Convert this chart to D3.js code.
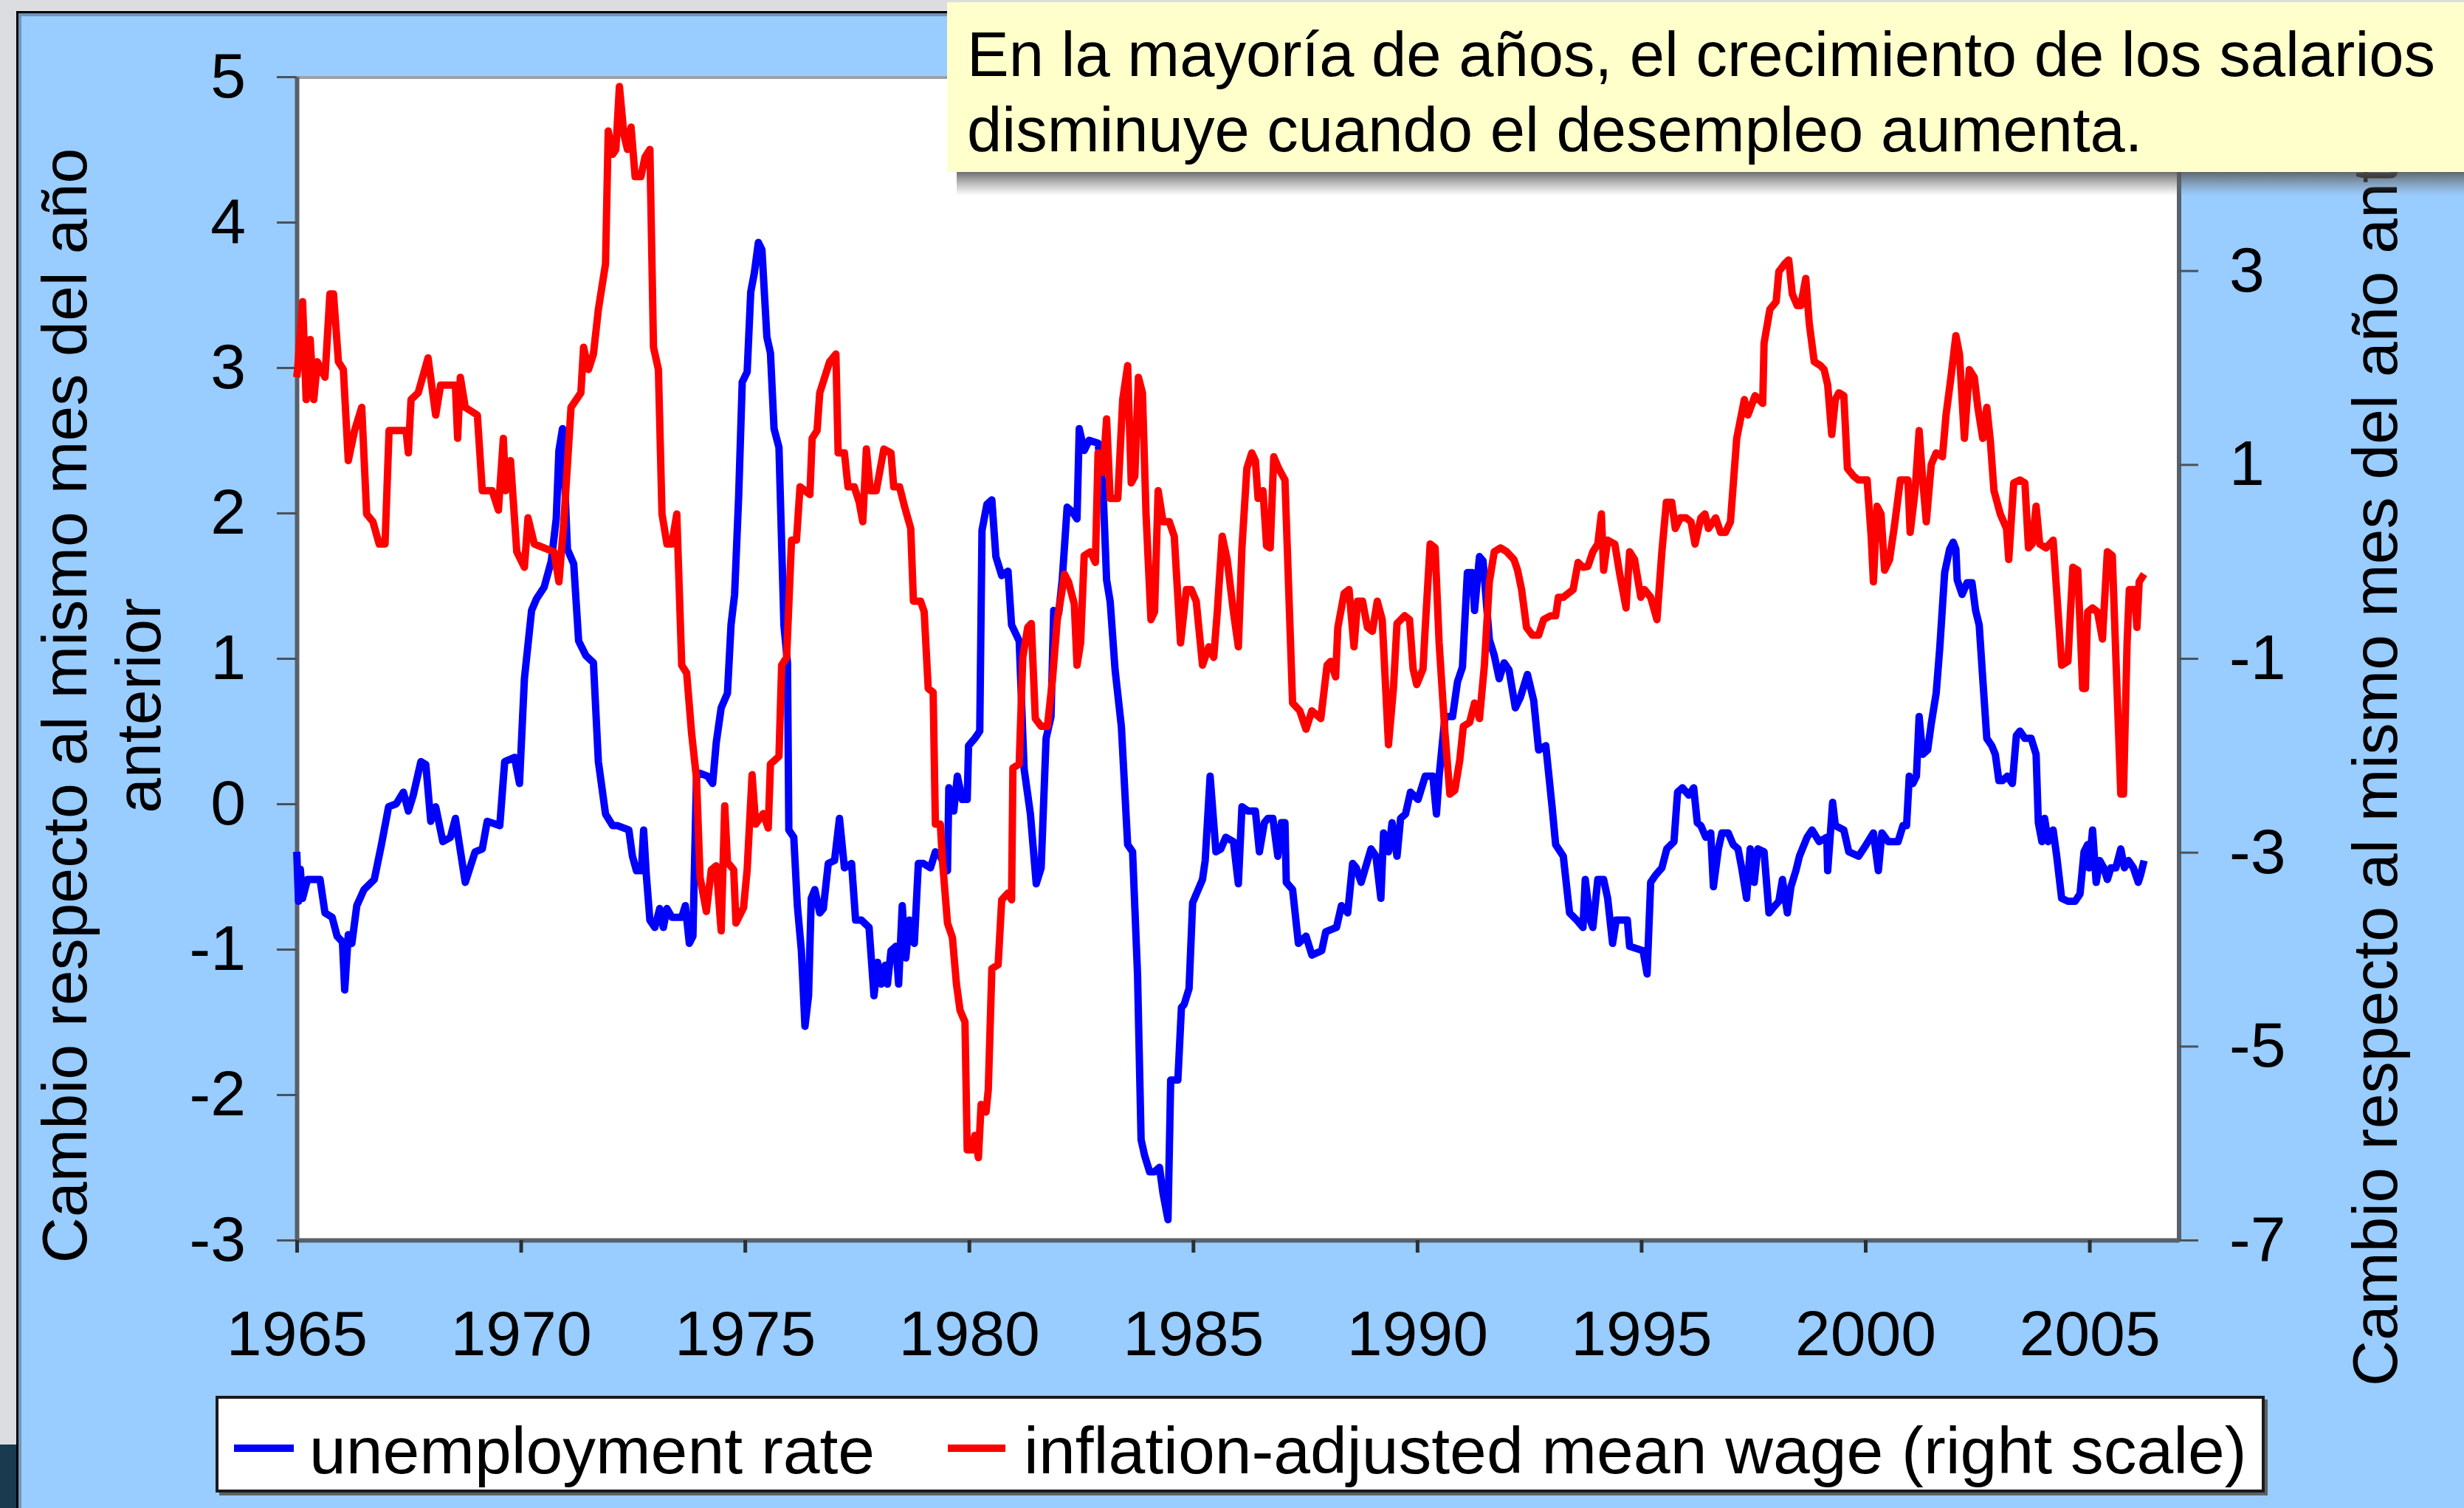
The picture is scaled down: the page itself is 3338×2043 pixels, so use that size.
<!DOCTYPE html>
<html><head><meta charset="utf-8">
<script src="https://cdn.jsdelivr.net/npm/d3@7"></script>
<style>
body{margin:0;background:#dcdde1;}
svg{display:block;}
text{font-family:'Liberation Sans',Arial,Helvetica,sans-serif;fill:#000;}
</style>
</head><body>
<svg id="c" width="3338" height="2043"></svg>
<script>
// ---------- data ----------
const xTicks = [1965,1970,1975,1980,1985,1990,1995,2000,2005];
const leftTicks = [-3,-2,-1,0,1,2,3,4,5];
const rightTicks = [-7,-5,-3,-1,1,3];
const legendLabels = ["unemployment rate","inflation-adjusted mean wage (right scale)"];
const leftTitleLines = ["Cambio respecto al mismo mes del año","anterior"];
const rightTitle = "Cambio respecto al mismo mes del año anterior";
const noteLines = ["En la mayoría de años, el crecimiento de los salarios","disminuye cuando el desempleo aumenta."];

// unemployment rate: change vs same month a year earlier (left scale)
const unemploymentRate = [
[1965.00,-0.33],[1965.04,-0.67],[1965.08,-0.45],[1965.13,-0.65],[1965.24,-0.52],[1965.52,-0.52],[1965.63,-0.75],[1965.79,-0.78],[1965.90,-0.91],[1966.02,-0.95],[1966.07,-1.28],[1966.15,-0.90],[1966.23,-0.96],[1966.34,-0.70],[1966.50,-0.59],[1966.73,-0.52],[1966.89,-0.28],
[1967.05,-0.02],[1967.22,0.00],[1967.38,0.08],[1967.49,-0.05],[1967.60,0.06],[1967.77,0.29],[1967.88,0.27],[1967.99,-0.12],[1968.10,-0.02],[1968.26,-0.26],[1968.43,-0.23],[1968.54,-0.10],[1968.76,-0.54],[1968.98,-0.33],
[1969.14,-0.31],[1969.25,-0.12],[1969.53,-0.15],[1969.64,0.29],[1969.86,0.32],[1969.97,0.14],[1970.08,0.86],[1970.24,1.33],[1970.35,1.41],[1970.52,1.49],[1970.68,1.67],[1970.79,1.96],[1970.85,2.43],[1970.93,2.58],
[1971.04,1.75],[1971.18,1.65],[1971.29,1.12],[1971.45,1.02],[1971.62,0.97],[1971.73,0.29],[1971.89,-0.07],[1972.05,-0.15],[1972.16,-0.15],[1972.41,-0.18],[1972.49,-0.36],[1972.58,-0.46],[1972.69,-0.46],[1972.74,-0.18],[1972.80,-0.49],[1972.88,-0.80],[1972.99,-0.85],
[1973.10,-0.72],[1973.18,-0.85],[1973.26,-0.72],[1973.37,-0.78],[1973.59,-0.78],[1973.67,-0.70],[1973.76,-0.96],[1973.84,-0.91],[1973.92,0.19],[1974.00,0.21],[1974.17,0.19],[1974.28,0.14],[1974.36,0.42],[1974.47,0.66],[1974.61,0.76],[1974.69,1.23],[1974.77,1.44],[1974.86,2.11],[1974.94,2.90],
[1975.05,2.97],[1975.13,3.52],[1975.21,3.65],[1975.30,3.86],[1975.38,3.81],[1975.49,3.21],[1975.57,3.10],[1975.65,2.58],[1975.76,2.45],[1975.87,1.23],[1975.95,0.97],[1975.98,-0.18],
[1976.09,-0.23],[1976.17,-0.70],[1976.26,-1.01],[1976.34,-1.53],[1976.42,-1.32],[1976.48,-0.65],[1976.56,-0.59],[1976.67,-0.75],[1976.75,-0.72],[1976.86,-0.41],[1977.00,-0.39],[1977.11,-0.10],[1977.22,-0.44],[1977.38,-0.41],[1977.47,-0.80],[1977.60,-0.80],[1977.77,-0.85],[1977.88,-1.32],[1977.96,-1.09],
[1978.04,-1.24],[1978.13,-1.11],[1978.18,-1.24],[1978.26,-1.01],[1978.37,-0.98],[1978.43,-1.24],[1978.51,-0.70],[1978.59,-1.06],[1978.67,-0.80],[1978.78,-0.96],[1978.87,-0.41],[1978.98,-0.41],
[1979.14,-0.44],[1979.25,-0.33],[1979.36,-0.36],[1979.45,-0.42],[1979.52,-0.46],[1979.55,0.11],[1979.66,-0.05],[1979.74,0.19],[1979.85,0.03],[1979.96,0.03],[1979.99,0.40],[1980.13,0.45],[1980.24,0.50],[1980.29,1.88],[1980.40,2.06],[1980.51,2.09],[1980.60,1.70],[1980.73,1.57],[1980.87,1.60],[1980.95,1.23],
[1981.12,1.12],[1981.23,0.24],[1981.37,-0.07],[1981.50,-0.55],[1981.61,-0.44],[1981.72,0.45],[1981.83,0.60],[1981.89,1.33],[1982.00,1.31],[1982.08,1.54],[1982.19,2.04],[1982.30,2.01],[1982.41,1.96],[1982.46,2.58],[1982.57,2.43],[1982.68,2.50],[1982.88,2.48],[1982.99,2.17],
[1983.07,1.54],[1983.15,1.39],[1983.26,0.92],[1983.40,0.53],[1983.54,-0.28],[1983.65,-0.33],[1983.76,-1.17],[1983.84,-2.31],[1983.92,-2.42],[1984.03,-2.53],[1984.14,-2.53],[1984.25,-2.50],[1984.33,-2.68],[1984.44,-2.86],[1984.50,-1.90],[1984.66,-1.90],[1984.74,-1.40],[1984.80,-1.38],[1984.91,-1.27],[1984.99,-0.68],
[1985.10,-0.60],[1985.21,-0.52],[1985.27,-0.39],[1985.38,0.19],[1985.51,-0.33],[1985.62,-0.31],[1985.73,-0.23],[1985.90,-0.26],[1986.01,-0.55],[1986.09,-0.02],[1986.23,-0.05],[1986.39,-0.05],[1986.48,-0.33],[1986.59,-0.13],[1986.67,-0.10],[1986.78,-0.10],[1986.89,-0.36],[1986.97,-0.13],
[1987.05,-0.13],[1987.08,-0.54],[1987.22,-0.59],[1987.35,-0.96],[1987.52,-0.91],[1987.65,-1.04],[1987.87,-1.01],[1987.96,-0.88],[1988.20,-0.85],[1988.31,-0.70],[1988.45,-0.75],[1988.56,-0.41],[1988.64,-0.44],[1988.75,-0.54],[1988.97,-0.31],
[1989.08,-0.36],[1989.19,-0.65],[1989.25,-0.20],[1989.36,-0.33],[1989.44,-0.13],[1989.55,-0.36],[1989.63,-0.10],[1989.74,-0.07],[1989.85,0.08],[1990.02,0.03],[1990.18,0.19],[1990.35,0.19],[1990.43,-0.07],[1990.49,0.19],[1990.62,0.60],[1990.79,0.60],[1990.90,0.84],
[1991.01,0.94],[1991.12,1.59],[1991.23,1.59],[1991.28,1.33],[1991.39,1.70],[1991.47,1.67],[1991.53,1.44],[1991.61,1.13],[1991.72,1.02],[1991.83,0.86],[1991.94,0.97],[1992.05,0.92],[1992.19,0.66],[1992.30,0.73],[1992.46,0.89],[1992.60,0.71],[1992.71,0.37],[1992.87,0.40],
[1993.01,-0.02],[1993.09,-0.28],[1993.26,-0.36],[1993.40,-0.75],[1993.56,-0.80],[1993.70,-0.85],[1993.75,-0.52],[1993.86,-0.80],[1993.92,-0.85],[1994.03,-0.52],[1994.16,-0.52],[1994.25,-0.65],[1994.36,-0.96],[1994.44,-0.80],[1994.69,-0.80],[1994.74,-0.98],
[1995.04,-1.01],[1995.13,-1.17],[1995.21,-0.54],[1995.32,-0.49],[1995.46,-0.44],[1995.57,-0.31],[1995.73,-0.26],[1995.81,0.08],[1995.92,0.11],[1996.06,0.06],[1996.17,0.11],[1996.25,-0.13],[1996.33,-0.15],[1996.44,-0.23],[1996.55,-0.20],[1996.61,-0.57],[1996.72,-0.31],[1996.80,-0.20],[1996.94,-0.20],
[1997.05,-0.28],[1997.16,-0.31],[1997.24,-0.44],[1997.35,-0.65],[1997.43,-0.31],[1997.52,-0.54],[1997.60,-0.31],[1997.74,-0.33],[1997.85,-0.75],[1997.93,-0.72],[1998.07,-0.67],[1998.15,-0.52],[1998.26,-0.75],[1998.34,-0.57],[1998.45,-0.46],[1998.53,-0.36],[1998.70,-0.23],[1998.81,-0.18],[1998.97,-0.26],
[1999.14,-0.23],[1999.16,-0.46],[1999.27,0.01],[1999.33,-0.15],[1999.52,-0.18],[1999.63,-0.33],[1999.85,-0.36],[2000.02,-0.28],[2000.18,-0.20],[2000.29,-0.46],[2000.37,-0.20],[2000.51,-0.26],[2000.62,-0.26],[2000.73,-0.26],[2000.84,-0.15],[2000.92,-0.15],[2000.98,0.19],
[2001.06,0.14],[2001.14,0.19],[2001.20,0.60],[2001.28,0.34],[2001.39,0.37],[2001.47,0.55],[2001.58,0.76],[2001.66,1.07],[2001.77,1.59],[2001.88,1.75],[2001.96,1.80],[2002.02,1.75],[2002.05,1.54],[2002.16,1.44],[2002.27,1.52],[2002.38,1.52],[2002.46,1.33],[2002.54,1.23],[2002.62,0.86],[2002.71,0.45],[2002.82,0.40],[2002.90,0.34],[2002.98,0.16],
[2003.06,0.16],[2003.17,0.19],[2003.28,0.14],[2003.37,0.47],[2003.45,0.50],[2003.56,0.45],[2003.70,0.45],[2003.81,0.34],[2003.86,-0.13],[2003.94,-0.26],[2004.00,-0.10],[2004.08,-0.26],[2004.19,-0.18],[2004.27,-0.36],[2004.38,-0.65],[2004.52,-0.67],[2004.68,-0.67],[2004.79,-0.62],[2004.88,-0.33],[2004.96,-0.28],[2004.99,-0.44],
[2005.07,-0.18],[2005.15,-0.54],[2005.23,-0.39],[2005.32,-0.44],[2005.40,-0.52],[2005.48,-0.44],[2005.59,-0.44],[2005.70,-0.31],[2005.78,-0.44],[2005.87,-0.39],[2005.98,-0.44],[2006.09,-0.54],[2006.14,-0.49],[2006.22,-0.39]
];

// inflation-adjusted mean wage: change vs same month a year earlier (right scale)
const realWageChange = [
[1965.00,1.90],[1965.02,1.98],[1965.13,2.68],[1965.21,1.67],[1965.30,2.29],[1965.38,1.67],[1965.46,2.06],[1965.63,1.90],[1965.74,2.76],[1965.82,2.76],[1965.93,2.06],[1966.04,1.98],[1966.15,1.04],[1966.29,1.35],[1966.45,1.59],[1966.56,0.49],[1966.70,0.41],[1966.84,0.18],[1966.97,0.18],
[1967.06,1.35],[1967.44,1.35],[1967.49,1.12],[1967.55,1.67],[1967.71,1.74],[1967.93,2.10],[1968.10,1.51],[1968.21,1.82],[1968.54,1.82],[1968.59,1.27],[1968.65,1.90],[1968.76,1.59],[1969.03,1.51],[1969.14,0.73],[1969.36,0.73],[1969.50,0.53],[1969.61,1.27],[1969.66,0.73],[1969.77,1.04],[1969.91,0.10],
[1970.08,-0.06],[1970.16,0.45],[1970.30,0.18],[1970.74,0.10],[1970.85,-0.21],[1970.96,0.41],[1971.12,1.59],[1971.34,1.74],[1971.40,2.21],[1971.51,1.98],[1971.62,2.14],[1971.73,2.60],[1971.89,3.07],[1971.95,4.44],[1972.05,4.20],[1972.12,4.25],[1972.20,4.90],[1972.30,4.40],[1972.38,4.25],[1972.46,4.48],[1972.55,3.97],[1972.68,3.97],[1972.77,4.17],[1972.88,4.25],[1972.96,2.21],
[1973.07,1.98],[1973.15,0.49],[1973.26,0.18],[1973.37,0.18],[1973.48,0.49],[1973.59,-1.07],[1973.70,-1.15],[1973.81,-1.77],[1973.92,-2.24],[1974.00,-3.26],[1974.14,-3.61],[1974.25,-3.18],[1974.36,-3.14],[1974.47,-3.81],[1974.55,-2.52],[1974.61,-3.10],[1974.75,-3.18],[1974.80,-3.73],[1974.97,-3.57],
[1975.05,-3.18],[1975.16,-2.20],[1975.24,-2.71],[1975.41,-2.60],[1975.52,-2.75],[1975.57,-2.09],[1975.76,-2.01],[1975.82,-1.07],[1975.93,-0.99],[1976.04,0.22],[1976.15,0.22],[1976.23,0.77],[1976.45,0.69],[1976.50,1.27],[1976.61,1.35],[1976.67,1.74],[1976.78,1.90],[1976.89,2.06],
[1977.03,2.14],[1977.08,1.12],[1977.22,1.12],[1977.30,0.77],[1977.44,0.77],[1977.55,0.61],[1977.63,0.41],[1977.71,1.16],[1977.80,0.73],[1977.93,0.73],[1978.10,1.16],[1978.26,1.12],[1978.32,0.77],[1978.45,0.77],[1978.56,0.57],[1978.70,0.34],[1978.76,-0.41],[1978.92,-0.41],
[1979.00,-0.52],[1979.09,-1.31],[1979.20,-1.35],[1979.25,-2.71],[1979.36,-2.71],[1979.41,-3.10],[1979.52,-3.73],[1979.63,-3.88],[1979.72,-4.36],[1979.80,-4.63],[1979.91,-4.75],[1979.96,-6.07],[1980.07,-6.07],[1980.13,-5.92],[1980.21,-6.15],[1980.27,-5.60],[1980.38,-5.68],[1980.43,-5.45],[1980.51,-4.20],[1980.65,-4.16],[1980.73,-3.49],[1980.87,-3.42],[1980.95,-3.49],[1980.98,-2.13],
[1981.12,-2.09],[1981.20,-0.99],[1981.31,-0.68],[1981.39,-0.64],[1981.48,-1.62],[1981.61,-1.70],[1981.75,-1.70],[1981.86,-1.23],[1981.97,-0.60],[1982.08,-0.29],[1982.13,-0.13],[1982.22,-0.21],[1982.35,-0.44],[1982.41,-1.07],[1982.49,-0.84],[1982.57,0.06],[1982.71,0.10],[1982.82,-0.01],[1982.88,1.12],[1982.99,0.92],
[1983.07,1.47],[1983.15,0.65],[1983.32,0.65],[1983.43,1.67],[1983.54,2.02],[1983.62,0.81],[1983.70,0.88],[1983.78,1.90],[1983.87,1.74],[1983.95,0.49],[1984.06,-0.60],[1984.14,-0.52],[1984.22,0.73],[1984.33,0.41],[1984.47,0.41],[1984.58,0.26],[1984.72,-0.84],[1984.85,-0.29],[1984.96,-0.29],
[1985.07,-0.41],[1985.21,-1.07],[1985.35,-0.88],[1985.46,-0.99],[1985.54,-0.52],[1985.65,0.26],[1985.76,0.02],[1985.90,-0.52],[1986.01,-0.88],[1986.09,0.14],[1986.20,0.96],[1986.31,1.12],[1986.39,1.04],[1986.45,0.65],[1986.56,0.73],[1986.64,0.16],[1986.72,0.14],[1986.80,1.08],[1986.91,0.96],
[1987.05,0.84],[1987.22,-1.46],[1987.38,-1.54],[1987.52,-1.73],[1987.65,-1.54],[1987.85,-1.62],[1987.99,-1.07],[1988.07,-1.03],[1988.18,-1.19],[1988.23,-0.68],[1988.37,-0.33],[1988.48,-0.29],[1988.59,-0.88],[1988.67,-0.41],[1988.78,-0.41],[1988.89,-0.68],
[1989.00,-0.72],[1989.11,-0.41],[1989.22,-0.60],[1989.36,-1.89],[1989.47,-1.31],[1989.55,-0.64],[1989.72,-0.56],[1989.83,-0.60],[1989.91,-1.11],[1989.99,-1.27],[1990.13,-1.11],[1990.18,-0.68],[1990.29,0.18],[1990.40,0.14],[1990.49,-0.84],[1990.62,-1.77],[1990.73,-2.40],[1990.84,-2.36],[1990.95,-2.05],
[1991.03,-1.70],[1991.17,-1.66],[1991.28,-1.46],[1991.39,-1.62],[1991.50,-1.07],[1991.61,-0.21],[1991.72,0.10],[1991.86,0.14],[1992.00,0.10],[1992.16,0.02],[1992.24,-0.09],[1992.33,-0.29],[1992.44,-0.68],[1992.57,-0.76],[1992.71,-0.76],[1992.82,-0.60],[1992.98,-0.56],
[1993.09,-0.56],[1993.15,-0.37],[1993.26,-0.37],[1993.48,-0.29],[1993.59,-0.01],[1993.70,-0.06],[1993.81,-0.05],[1993.92,0.10],[1994.03,0.18],[1994.11,0.49],[1994.16,-0.09],[1994.25,0.22],[1994.41,0.18],[1994.52,-0.13],[1994.66,-0.48],[1994.74,0.10],[1994.85,0.02],[1994.99,-0.37],
[1995.07,-0.29],[1995.21,-0.37],[1995.35,-0.60],[1995.46,0.10],[1995.56,0.61],[1995.68,0.61],[1995.76,0.34],[1995.87,0.45],[1996.00,0.45],[1996.11,0.41],[1996.20,0.18],[1996.33,0.45],[1996.42,0.49],[1996.50,0.34],[1996.66,0.45],[1996.77,0.30],[1996.88,0.30],[1996.99,0.41],
[1997.13,1.27],[1997.30,1.67],[1997.38,1.51],[1997.54,1.71],[1997.71,1.63],[1997.74,2.25],[1997.87,2.60],[1998.01,2.68],[1998.07,2.99],[1998.20,3.07],[1998.29,3.11],[1998.37,2.76],[1998.48,2.64],[1998.56,2.64],[1998.67,2.92],[1998.75,2.45],[1998.86,2.06],
[1999.00,2.02],[1999.08,1.98],[1999.16,1.82],[1999.25,1.31],[1999.33,1.67],[1999.41,1.74],[1999.52,1.71],[1999.60,0.96],[1999.74,0.88],[1999.85,0.84],[2000.04,0.84],[2000.13,0.26],[2000.18,-0.21],[2000.26,0.57],[2000.35,0.49],[2000.43,-0.09],[2000.54,0.02],[2000.65,0.37],[2000.78,0.84],[2000.95,0.84],
[2001.00,0.30],[2001.11,0.73],[2001.20,1.35],[2001.28,0.84],[2001.36,0.41],[2001.47,1.00],[2001.58,1.12],[2001.72,1.08],[2001.80,1.51],[2001.91,1.90],[2002.02,2.33],[2002.10,2.14],[2002.21,1.27],[2002.32,1.98],[2002.43,1.90],[2002.51,1.59],[2002.62,1.27],[2002.71,1.59],[2002.79,1.24],[2002.87,0.73],
[2003.01,0.49],[2003.15,0.34],[2003.20,0.02],[2003.31,0.81],[2003.45,0.84],[2003.56,0.81],[2003.64,0.14],[2003.72,0.18],[2003.81,0.57],[2003.89,0.18],[2004.03,0.14],[2004.19,0.22],[2004.30,-0.52],[2004.38,-1.07],[2004.52,-1.03],[2004.63,-0.06],[2004.74,-0.09],[2004.85,-1.31],[2004.91,-1.31],[2004.96,-0.52],
[2005.07,-0.48],[2005.18,-0.52],[2005.29,-0.80],[2005.40,0.10],[2005.51,0.06],[2005.59,-0.99],[2005.70,-2.40],[2005.76,-2.40],[2005.84,-0.84],[2005.89,-0.29],[2006.00,-0.29],[2006.06,-0.68],[2006.11,-0.21],[2006.22,-0.13]
];

// ---------- drawing ----------
const svg = d3.select('#c');
const W = 3338, H = 2043;
const plot = {left: 402, right: 2952, top: 104, bottom: 1680};
const FONT = 86;

// slide background
svg.append('rect').attr('x',0).attr('y',0).attr('width',W).attr('height',H).attr('fill','#dcdde1');
svg.append('rect').attr('x',22).attr('y',15).attr('width',W-22).attr('height',H-15).attr('fill','#99ccff');
svg.append('rect').attr('x',0).attr('y',1957).attr('width',22).attr('height',H-1957).attr('fill','#1a3a4f');
svg.append('line').attr('x1',23.5).attr('x2',23.5).attr('y1',15).attr('y2',H).attr('stroke','#000').attr('stroke-width',3);
svg.append('line').attr('x1',22).attr('x2',W).attr('y1',16.5).attr('y2',16.5).attr('stroke','#000').attr('stroke-width',3);
svg.append('line').attr('x1',27).attr('x2',27).attr('y1',18).attr('y2',H).attr('stroke','#7294b8').attr('stroke-width',4);
svg.append('line').attr('x1',25).attr('x2',W).attr('y1',20).attr('y2',20).attr('stroke','#7294b8').attr('stroke-width',4);

// scales
const x = d3.scaleLinear().domain([1965, 2007]).range([plot.left, plot.right]);
const yL = d3.scaleLinear().domain([-3, 5]).range([plot.bottom, plot.top]);
const yR = d3.scaleLinear().domain([-7, 5]).range([plot.bottom, plot.top]);

// plot area
svg.append('rect').attr('x',plot.left).attr('y',plot.top)
  .attr('width',plot.right-plot.left).attr('height',plot.bottom-plot.top).attr('fill','#fff');
svg.append('line').attr('x1',plot.left).attr('x2',plot.right).attr('y1',plot.top+1).attr('y2',plot.top+1)
  .attr('stroke','#9aa1a9').attr('stroke-width',4);

function styleAxis(g, domainW, tickW, tickColor){
  g.select('.domain').attr('stroke','#58606a').attr('stroke-width',domainW);
  g.selectAll('.tick line').attr('stroke',tickColor).attr('stroke-width',tickW);
  g.selectAll('.tick text').attr('font-size',FONT).attr('fill','#000')
    .attr('font-family',"'Liberation Sans',Arial,Helvetica,sans-serif");
}

const gL = svg.append('g').attr('transform',`translate(${plot.left},0)`)
  .call(d3.axisLeft(yL).tickValues(leftTicks).tickSize(27).tickSizeOuter(0).tickPadding(42).tickFormat(d=>String(d)));
styleAxis(gL, 6, 3, '#4a525c');

const gR = svg.append('g').attr('transform',`translate(${plot.right},0)`)
  .call(d3.axisRight(yR).tickValues(rightTicks).tickSize(26).tickSizeOuter(0).tickPadding(42).tickFormat(d=>String(d)));
styleAxis(gR, 6, 3, '#4a525c');
// right axis line runs to the top of the plot (hidden behind the note)
gR.select('.domain').attr('d', `M0,${plot.top}V${plot.bottom}`);

const gB = svg.append('g').attr('transform',`translate(0,${plot.bottom})`)
  .call(d3.axisBottom(x).tickValues(xTicks).tickSize(17).tickSizeOuter(0).tickPadding(78).tickFormat(d3.format('d')));
styleAxis(gB, 6, 5, '#2a2f36');

// series
const lineL = d3.line().x(d=>x(d[0])).y(d=>yL(d[1]));
const lineR = d3.line().x(d=>x(d[0])).y(d=>yR(d[1]));
svg.append('path').datum(unemploymentRate).attr('d',lineL)
  .attr('fill','none').attr('stroke','#0000ff').attr('stroke-width',10).attr('stroke-linejoin','round');
svg.append('path').datum(realWageChange).attr('d',lineR)
  .attr('fill','none').attr('stroke','#ff0000').attr('stroke-width',10).attr('stroke-linejoin','round');

// axis titles
const gLT = svg.append('g');
[[117, leftTitleLines[0]],[217, leftTitleLines[1]]].forEach(([bx,t])=>{
  gLT.append('text').attr('transform',`translate(${bx},956) rotate(-90)`)
    .attr('text-anchor','middle').attr('font-size',FONT).text(t);
});
svg.append('text').attr('transform','translate(3247,1878) rotate(-90)')
  .attr('text-anchor','start').attr('font-size',FONT).text(rightTitle);

// legend
svg.append('rect').attr('x',297).attr('y',1896).attr('width',2775).attr('height',130).attr('fill','#5c6066');
svg.append('rect').attr('x',294).attr('y',1893).attr('width',2772).attr('height',127)
  .attr('fill','#fff').attr('stroke','#1a1a1a').attr('stroke-width',4);
const legendItems = [
  {x1:317, x2:398, tx:419, color:'#0000ff', label:legendLabels[0]},
  {x1:1284, x2:1362, tx:1387, color:'#ff0000', label:legendLabels[1]}
];
legendItems.forEach(it=>{
  svg.append('line').attr('x1',it.x1).attr('x2',it.x2).attr('y1',1962).attr('y2',1962)
    .attr('stroke',it.color).attr('stroke-width',10);
  svg.append('text').attr('x',it.tx).attr('y',1996).attr('font-size',89.5).text(it.label);
});

// annotation box with shadow
const defs = svg.append('defs');
const grad = defs.append('linearGradient').attr('id','shadowGrad').attr('x1',0).attr('y1',0).attr('x2',0).attr('y2',1);
grad.append('stop').attr('offset','0%').attr('stop-color','#555').attr('stop-opacity',0.85);
grad.append('stop').attr('offset','100%').attr('stop-color','#777').attr('stop-opacity',0);
svg.append('rect').attr('x',1296).attr('y',233).attr('width',W-1296).attr('height',32).attr('fill','url(#shadowGrad)');
svg.append('rect').attr('x',1283).attr('y',3).attr('width',W-1283).attr('height',230).attr('fill','#ffffcc');
noteLines.forEach((t,i)=>{
  svg.append('text').attr('x',1310).attr('y',103 + i*102).attr('font-size',85).text(t);
});
</script>
</body></html>
